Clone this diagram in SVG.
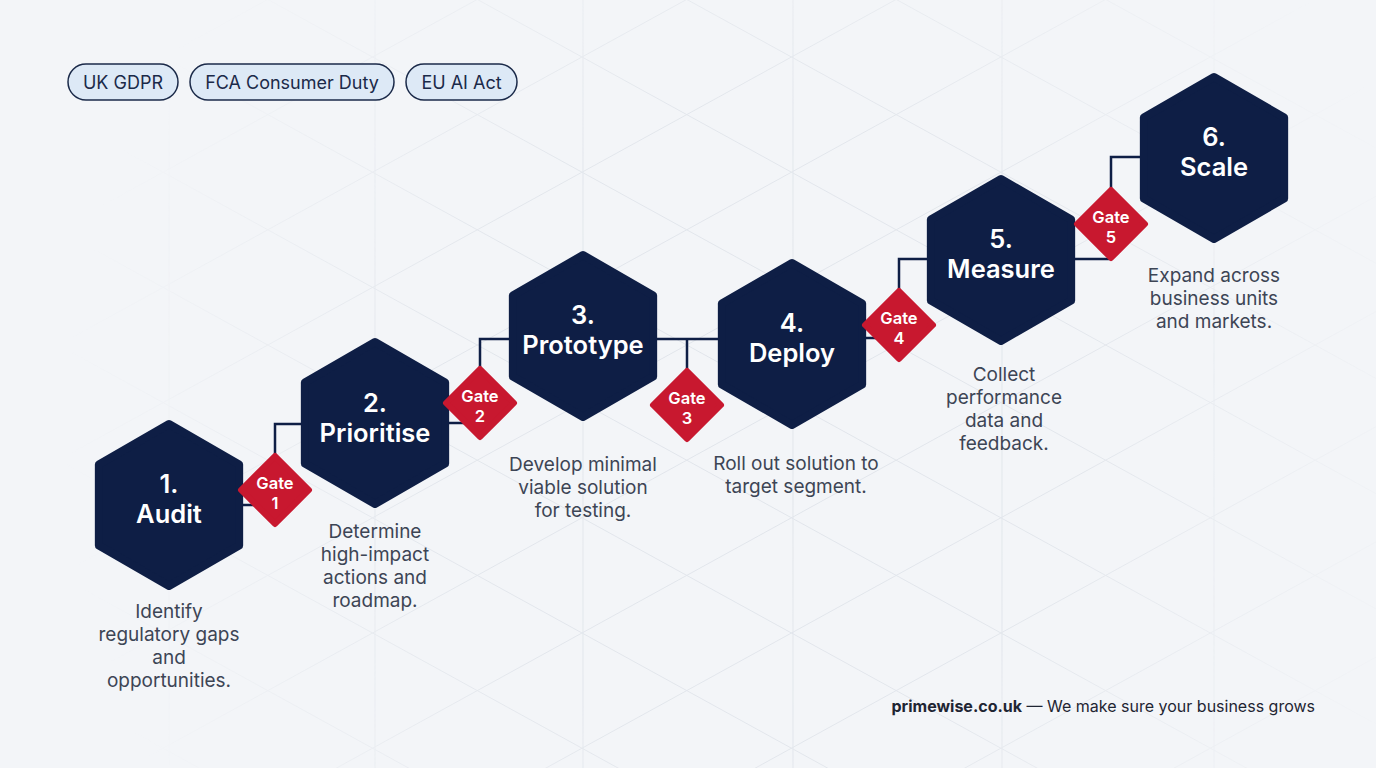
<svg xmlns="http://www.w3.org/2000/svg" width="1376" height="768" viewBox="0 0 1376 768">
  <defs>
    <style>
      .hex { fill: #0e1e45; stroke: #0e1e45; stroke-width: 8; stroke-linejoin: round; }
      .gate { fill: #c8182f; stroke: #c8182f; stroke-width: 6; stroke-linejoin: round; }
      .conn { fill: none; stroke: #0e1e45; stroke-width: 2.5; }
      .ht { font-family: Inter, 'Liberation Sans', sans-serif; font-size: 25.5px; font-weight: 600; fill: #ffffff; text-anchor: middle; }
      .gt { font-family: Inter, 'Liberation Sans', sans-serif; font-size: 16.5px; font-weight: 600; fill: #ffffff; text-anchor: middle; }
      .desc { font-family: Inter, 'Liberation Sans', sans-serif; font-size: 19px; fill: #3d4555; text-anchor: middle; }
      .tag { fill: #dde9f6; stroke: #1b2a49; stroke-width: 1.5; }
      .tagt { font-family: Inter, 'Liberation Sans', sans-serif; font-size: 18px; fill: #1b2a49; text-anchor: middle; }
      .foot { font-family: Inter, 'Liberation Sans', sans-serif; font-size: 16px; fill: #1f2533; text-anchor: end; }
      .grid { fill: none; stroke: #e1e5eb; stroke-width: 1; }
    </style>
    <polygon id="hexShape" points="0,-81 70.15,-40.5 70.15,40.5 0,81 -70.15,40.5 -70.15,-40.5"/>
    <polygon id="gateShape" points="0,-34 34,0 0,34 -34,0"/>
    <radialGradient id="fade" cx="760" cy="430" r="820" gradientUnits="userSpaceOnUse">
      <stop offset="0" stop-color="#fff" stop-opacity="1"/>
      <stop offset="0.4" stop-color="#fff" stop-opacity="0.9"/>
      <stop offset="0.75" stop-color="#fff" stop-opacity="0.15"/>
      <stop offset="0.85" stop-color="#fff" stop-opacity="0"/>
    </radialGradient>
    <mask id="gridMask" maskUnits="userSpaceOnUse" x="0" y="0" width="1376" height="768">
      <rect x="0" y="0" width="1376" height="768" fill="url(#fade)"/>
    </mask>
  </defs>

  <rect x="0" y="0" width="1376" height="768" fill="#f3f5f8"/>

  <g id="background-grid" class="grid" mask="url(#gridMask)">
    <path d="M0,-723.9 L1376,32.9 M0,-608.7 L1376,148.1 M0,-493.5 L1376,263.3 M0,-378.3 L1376,378.5 M0,-263.1 L1376,493.7 M0,-147.9 L1376,608.9 M0,-32.7 L1376,724.1 M0,82.5 L1376,839.3 M0,197.7 L1376,954.5 M0,312.9 L1376,1069.7 M0,428.1 L1376,1184.9 M0,543.3 L1376,1300.1 M0,658.5 L1376,1415.3"/>
    <path d="M0,31.5 L1376,-725.3 M0,146.7 L1376,-610.1 M0,261.9 L1376,-494.9 M0,377.1 L1376,-379.7 M0,492.3 L1376,-264.5 M0,607.5 L1376,-149.3 M0,722.7 L1376,-34.1 M0,837.9 L1376,81.1 M0,953.1 L1376,196.3 M0,1068.3 L1376,311.5 M0,1183.5 L1376,426.7 M0,1298.7 L1376,541.9 M0,1413.9 L1376,657.1"/>
    <path d="M169,0 V768 M375,0 V768 M583,0 V768 M793,0 V768 M1002,0 V768 M1214,0 V768"/>
  </g>

  <g id="tags">
    <g id="tag-ukgdpr">
      <rect class="tag" x="68" y="64" width="110" height="36" rx="18"/>
      <text class="tagt" x="123" y="89">UK GDPR</text>
    </g>
    <g id="tag-fca">
      <rect class="tag" x="190" y="64" width="204" height="36" rx="18"/>
      <text class="tagt" x="292" y="89">FCA Consumer Duty</text>
    </g>
    <g id="tag-euai">
      <rect class="tag" x="406" y="64" width="111" height="36" rx="18"/>
      <text class="tagt" x="461.5" y="89">EU AI Act</text>
    </g>
  </g>

  <g id="connectors">
    <path class="conn" d="M240,505 H275 V424 H305"/>
    <path class="conn" d="M446,423 H480 V339 H512"/>
    <path class="conn" d="M654,339 H722 M687,339 V372"/>
    <path class="conn" d="M863,338 H899 V259 H930"/>
    <path class="conn" d="M1072,259 H1111 V157 H1144"/>
  </g>

  <g id="node-1">
    <use href="#hexShape" class="hex" transform="translate(169,505)"/>
    <text class="ht" x="169" y="493">1.</text>
    <text class="ht" x="169" y="523">Audit</text>
    <text class="desc" x="169" y="618">Identify</text>
    <text class="desc" x="169" y="641">regulatory gaps</text>
    <text class="desc" x="169" y="664">and</text>
    <text class="desc" x="169" y="687">opportunities.</text>
  </g>

  <g id="node-2">
    <use href="#hexShape" class="hex" transform="translate(375,423)"/>
    <text class="ht" x="375" y="412">2.</text>
    <text class="ht" x="375" y="442">Prioritise</text>
    <text class="desc" x="375" y="538">Determine</text>
    <text class="desc" x="375" y="561">high-impact</text>
    <text class="desc" x="375" y="584">actions and</text>
    <text class="desc" x="375" y="607">roadmap.</text>
  </g>

  <g id="node-3">
    <use href="#hexShape" class="hex" transform="translate(583,336)"/>
    <text class="ht" x="583" y="324">3.</text>
    <text class="ht" x="583" y="354">Prototype</text>
    <text class="desc" x="583" y="471">Develop minimal</text>
    <text class="desc" x="583" y="494">viable solution</text>
    <text class="desc" x="583" y="517">for testing.</text>
  </g>

  <g id="node-4">
    <use href="#hexShape" class="hex" transform="translate(792,344)"/>
    <text class="ht" x="792" y="332">4.</text>
    <text class="ht" x="792" y="362">Deploy</text>
    <text class="desc" x="796" y="470">Roll out solution to</text>
    <text class="desc" x="796" y="493">target segment.</text>
  </g>

  <g id="node-5">
    <use href="#hexShape" class="hex" transform="translate(1001,260)"/>
    <text class="ht" x="1001" y="248">5.</text>
    <text class="ht" x="1001" y="278">Measure</text>
    <text class="desc" x="1004" y="381">Collect</text>
    <text class="desc" x="1004" y="404">performance</text>
    <text class="desc" x="1004" y="427">data and</text>
    <text class="desc" x="1004" y="450">feedback.</text>
  </g>

  <g id="node-6">
    <use href="#hexShape" class="hex" transform="translate(1214,158)"/>
    <text class="ht" x="1214" y="146">6.</text>
    <text class="ht" x="1214" y="176">Scale</text>
    <text class="desc" x="1214" y="282">Expand across</text>
    <text class="desc" x="1214" y="305">business units</text>
    <text class="desc" x="1214" y="328">and markets.</text>
  </g>

  <g id="gate-1">
    <use href="#gateShape" class="gate" transform="translate(275,490)"/>
    <text class="gt" x="275" y="489">Gate</text>
    <text class="gt" x="275" y="509">1</text>
  </g>
  <g id="gate-2">
    <use href="#gateShape" class="gate" transform="translate(480,403)"/>
    <text class="gt" x="480" y="402">Gate</text>
    <text class="gt" x="480" y="422">2</text>
  </g>
  <g id="gate-3">
    <use href="#gateShape" class="gate" transform="translate(687,405)"/>
    <text class="gt" x="687" y="404">Gate</text>
    <text class="gt" x="687" y="424">3</text>
  </g>
  <g id="gate-4">
    <use href="#gateShape" class="gate" transform="translate(899,325)"/>
    <text class="gt" x="899" y="324">Gate</text>
    <text class="gt" x="899" y="344">4</text>
  </g>
  <g id="gate-5">
    <use href="#gateShape" class="gate" transform="translate(1111,224)"/>
    <text class="gt" x="1111" y="223">Gate</text>
    <text class="gt" x="1111" y="243">5</text>
  </g>

  <g id="footer">
    <text class="foot" x="1315" y="712"><tspan font-weight="700">primewise.co.uk</tspan> — We make sure your business grows</text>
  </g>
</svg>
